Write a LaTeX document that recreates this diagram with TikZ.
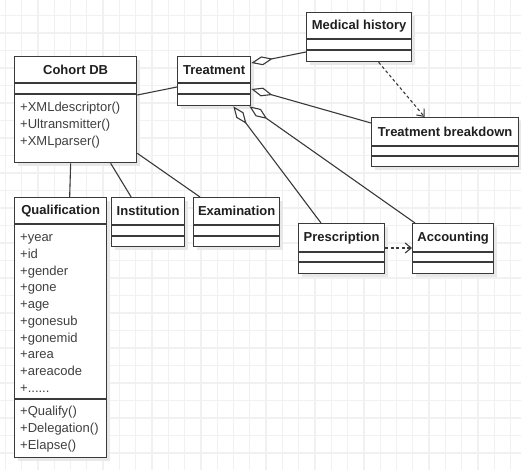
\documentclass[tikz,border=0pt]{standalone}
\usepackage{fontspec}
\setmainfont{Liberation Sans}
\usetikzlibrary{positioning,arrows.meta,shadows}

\definecolor{umldraw}{HTML}{3A3A3A}
\definecolor{umltext}{HTML}{404040}
\definecolor{gridcol}{HTML}{F1F1F1}

\begin{document}
\begin{tikzpicture}[
x=1pt,y=-1pt,
classbox/.style={
  draw=umldraw,
  line width=1.3pt,
  fill=white,
  anchor=north west,
  inner sep=0pt,
  drop shadow={shadow xshift=3pt,shadow yshift=-3pt,fill=black!9,draw=none,opacity=1}
},
ctitle/.style={
  inner sep=0pt,
  minimum height=27.5pt,
  font=\fontsize{13}{16}\selectfont\bfseries,
  text=black!88
},
members/.style={
  inner sep=0pt,
  align=left,
  font=\fontsize{13}{16.7}\selectfont,
  text=umltext
},
divider/.style={draw=umldraw,line width=1.1pt},
assoc/.style={draw=umldraw,line width=1.1pt},
aggr/.style={assoc,{Diamond[length=22pt,width=9pt,fill=white]}-},
dep/.style={assoc,dash pattern=on 3pt off 2.5pt,-{Straight Barb[length=6pt,width=10pt]}}
]
\useasboundingbox (0,0) rectangle (521,470);
\fill[white] (0,0) rectangle (521,470);

% background grid
\foreach \gx in {5.3,21.6,...,521}
  \draw[gridcol,line width=1.3pt] (\gx,0) -- (\gx,470);
\foreach \gy in {15.5,33,...,470}
  \draw[gridcol,line width=1.3pt] (0,\gy) -- (521,\gy);

% classes
\node[classbox,minimum width=122pt,minimum height=106pt] (cohort) at (14,56) {};
\node[classbox,minimum width=73pt,minimum height=49pt] (treat) at (177,56) {};
\node[classbox,minimum width=105pt,minimum height=49pt] (medhist) at (306,12) {};
\node[classbox,minimum width=147pt,minimum height=49pt] (breakdown) at (371,117) {};
\node[classbox,minimum width=92pt,minimum height=260pt] (qual) at (14,197) {};
\node[classbox,minimum width=73pt,minimum height=49pt] (inst) at (111,197) {};
\node[classbox,minimum width=86pt,minimum height=49pt] (exam) at (193,197) {};
\node[classbox,minimum width=86pt,minimum height=50pt] (presc) at (298,223) {};
\node[classbox,minimum width=81pt,minimum height=50pt] (acct) at (412,223) {};

\node[ctitle,below=0pt of cohort.north] (cohortT) {Cohort DB};
\node[ctitle,below=0pt of treat.north] (treatT) {Treatment};
\node[ctitle,below=0pt of medhist.north] (medhistT) {Medical history};
\node[ctitle,below=0pt of breakdown.north,minimum height=29pt] (breakdownT) {Treatment breakdown};
\node[ctitle,below=0pt of qual.north] (qualT) {Qualification};
\node[ctitle,below=0pt of inst.north,minimum height=28pt] (instT) {Institution};
\node[ctitle,below=0pt of exam.north,minimum height=28pt] (examT) {Examination};
\node[ctitle,below=0pt of presc.north,minimum height=29pt] (prescT) {Prescription};
\node[ctitle,below=0pt of acct.north,minimum height=29pt] (acctT) {Accounting};

% compartments
\foreach \n/\a/\b in {cohort/27/38,treat/27/38,medhist/27/38,breakdown/29/39,
    qual/27/202,inst/28/39,exam/28/39,presc/29/39,acct/29/39}{
  \draw[divider] ([yshift=-\a]\n.north west) -- ([yshift=-\a]\n.north east);
  \draw[divider] ([yshift=-\b]\n.north west) -- ([yshift=-\b]\n.north east);
}

\node[members,below right=44pt and 6pt of cohort.north west] (cohortM)
  {\strut+XMLdescriptor()\\\strut+Ultransmitter()\\\strut+XMLparser()};
\node[members,below right=33pt and 6pt of qual.north west] (qualA)
  {\strut+year\\\strut+id\\\strut+gender\\\strut+gone\\\strut+age\\
   \strut+gonesub\\\strut+gonemid\\\strut+area\\\strut+areacode\\\strut+......};
\node[members,below right=207pt and 6pt of qual.north west] (qualM)
  {\strut+Qualify()\\\strut+Delegation()\\\strut+Elapse()};

% relations
\draw[assoc] ([yshift=-39]cohort.north east) -- ([yshift=-31]treat.north west);
\draw[assoc] ([xshift=-5]cohort.south) -- ([xshift=9]qual.north);
\draw[assoc] ([xshift=35]cohort.south) -- ([xshift=-17]inst.north);
\draw[assoc] ([yshift=10]cohort.south east) -- ([xshift=7]exam.north west);

\draw[aggr] ([yshift=-7]treat.north east) -- ([yshift=-40]medhist.north west);
\draw[aggr] ([yshift=-33]treat.north east) -- ([yshift=-6]breakdown.north west);
\draw[aggr] ([xshift=-18]treat.south east) -- ([xshift=23]presc.north west);
\draw[aggr] ([xshift=-2]treat.south east) -- ([xshift=3]acct.north west);

\draw[dep] ([xshift=19.5]medhist.south) -- ([xshift=-20.5]breakdown.north);
\draw[dep] ([yshift=-25]presc.north east) -- ([yshift=-25]acct.north west);
\end{tikzpicture}
\end{document}
